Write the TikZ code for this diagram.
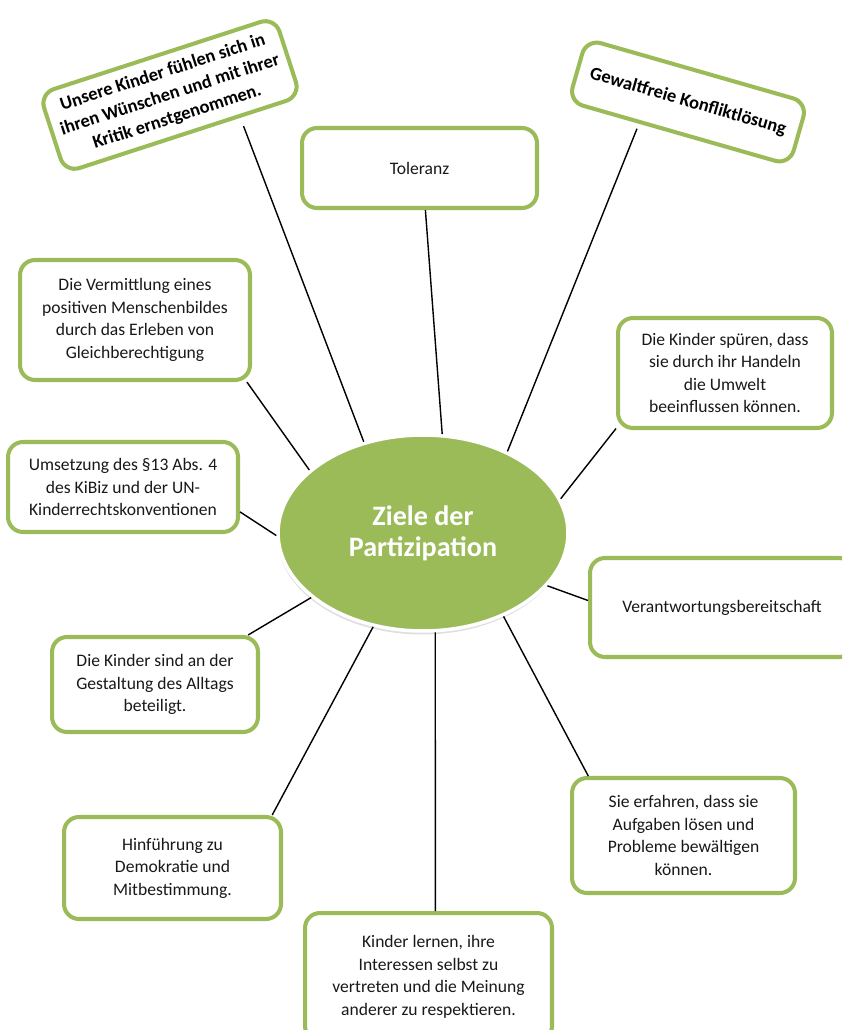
\documentclass[tikz,border=0pt]{standalone}
\usepackage{fontspec}
\setmainfont{Carlito}
\usetikzlibrary{shapes.geometric,shadows}
\definecolor{zielgruen}{HTML}{9BBB59}

\begin{document}
\begin{tikzpicture}[x=0.02cm, y=-0.02cm,
	every edge/.style={draw, black, line width=0.8pt},
	goal node/.style={draw=zielgruen, line width=2.3pt, rounded corners=0.3cm, fill=white,
		align=center, inner sep=2pt, text=black!90, font=\fontsize{10}{12.8}\selectfont},
	tilt node/.style={goal node, text=black, font=\fontsize{10.5}{13.2}\selectfont\bfseries},
	center node/.style={ellipse, fill=zielgruen, draw=white, line width=2pt, inner sep=0pt,
		minimum width=5.8cm, minimum height=3.92cm, align=center, text=white,
		font=\fontsize{16}{17.6}\selectfont\bfseries,
		drop shadow={shadow xshift=-0.4pt, shadow yshift=-2pt, opacity=0.25}}]
	
	\useasboundingbox (0,0) rectangle (842,1030);
	\clip (0,0) rectangle (842,1030);
	
	\node[center node] (ziele) at (423,533) {Ziele der\\Partizipation};
	
	\node[tilt node, rotate=18, minimum width=4.95cm, minimum height=1.66cm] (unsere) at (170,95)
		{Unsere Kinder fühlen sich in\\ihren Wünschen und mit ihrer\\Kritik ernstgenommen.};
	\node[goal node, minimum width=4.7cm, minimum height=1.6cm] (toleranz) at (419.5,168) {Toleranz};
	\node[tilt node, rotate=-16, minimum width=4.6cm, minimum height=1.3cm] (gewalt) at (688,102)
		{Gewaltfreie Konfliktlösung};
	\node[goal node, minimum width=4.6cm, minimum height=2.4cm] (bild) at (135,320)
		{Die Vermittlung eines\\positiven Menschenbildes\\durch das Erleben von\\Gleichberechtigung};
	\node[goal node, minimum width=4.28cm, minimum height=2.2cm] (umwelt) at (725,373)
		{Die Kinder spüren, dass\\sie durch ihr Handeln\\die Umwelt\\beeinflussen können.};
	\node[goal node, minimum width=4.6cm, minimum height=1.8cm] (kibiz) at (123,487)
		{Umsetzung des §13 Abs. 4\\des KiBiz und der UN-\\Kinderrechtskonventionen};
	\node[goal node, minimum width=5.28cm, minimum height=1.98cm] (verantwortung) at (722,607.5)
		{Verantwortungsbereitschaft};
	\node[goal node, minimum width=4.12cm, minimum height=1.9cm] (alltag) at (155,684.5)
		{Die Kinder sind an der\\Gestaltung des Alltags\\beteiligt.};
	\node[goal node, minimum width=4.34cm, minimum height=2.04cm] (demokratie) at (172.5,868)
		{Hinführung zu\\Demokratie und\\Mitbestimmung.};
	\node[goal node, minimum width=4.94cm, minimum height=2.56cm] (interessen) at (428.5,977)
		{Kinder lernen, ihre\\Interessen selbst zu\\vertreten und die Meinung\\anderer zu respektieren.};
	\node[goal node, minimum width=4.46cm, minimum height=2.3cm] (aufgaben) at (683.5,835.5)
		{Sie erfahren, dass sie\\Aufgaben lösen und\\Probleme bewältigen\\können.};
	
	\path
		(unsere.-36) edge[shorten <=5pt] (ziele.123)
		(toleranz.-82) edge (ziele.79)
		(gewalt.220) edge[shorten <=3pt] (ziele.44)
		(bild.-29) edge (ziele.151)
		(umwelt.207) edge (ziele.14.5)
		(kibiz.-12.7) edge (ziele.181)
		(verantwortung.177) edge (ziele.-23)
		(alltag.28) edge (ziele.210)
		(demokratie.28) edge (ziele.242)
		(interessen.84) edge (ziele.277)
		(aufgaben.148.7) edge (ziele.314);
	
\end{tikzpicture}
\end{document}
